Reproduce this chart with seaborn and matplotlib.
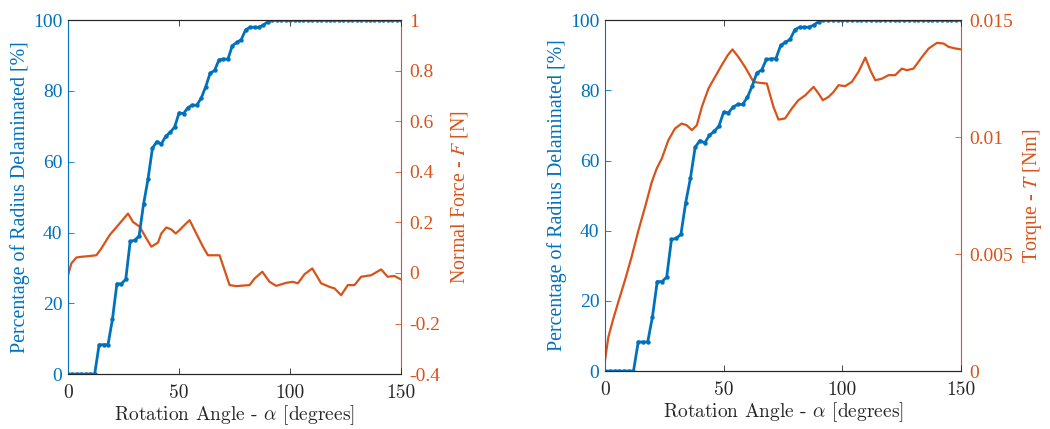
import numpy as np
import pandas as pd
import matplotlib
matplotlib.use("Agg")
import matplotlib.pyplot as plt
import seaborn as sns
from matplotlib.ticker import FuncFormatter

# ---------------- data ----------------
angle_pct = [0, 2, 4, 6, 8, 10, 12, 14, 16, 18, 20, 22, 24, 26, 28, 30, 32, 34, 36, 38,
             40, 42, 44, 46, 48, 50, 52, 54, 56, 58, 60, 62, 64, 66, 68, 70, 72, 74, 76, 78,
             80, 82, 84, 86, 88, 90, 92, 94, 96, 98, 100, 102, 104, 106, 108, 110, 112, 114,
             116, 118, 120, 122, 124, 126, 128, 130, 132, 134, 136, 138, 140, 142, 144, 146,
             148, 150]
pct_delam = [0, 0, 0, 0, 0, 0, 0, 8.3, 8.3, 8.3, 15.5, 25.5, 25.5, 26.8, 37.5, 37.8, 39, 48,
             55, 63.8, 65.7, 65, 67.2, 68.3, 69.8, 73.8, 73.6, 75.3, 76, 76, 78, 81.2, 85,
             85.8, 88.8, 89, 89, 92.8, 93.7, 94.5, 97.3, 98, 98, 98, 98.6, 99.6, 100, 100, 100,
             100, 100, 100, 100, 100, 100, 100, 100, 100, 100, 100, 100, 100, 100, 100, 100,
             100, 100, 100, 100, 100, 100, 100, 100, 100, 100, 100]

angle_force = [0, 1.5, 3.75, 6, 9.75, 12.75, 15, 18.75, 23.25, 27, 29.25, 32.25, 35.25, 37.5,
               40.5, 42, 44.25, 46.5, 48.5, 50.25, 52.5, 54.75, 57.75, 60.75, 63, 68.25, 72.75,
               75.75, 81.75, 84, 87.5, 90.75, 93.75, 98.25, 101.25, 103.5, 106.5, 110, 114,
               117.75, 120, 123, 126, 129, 132, 136.5, 141, 144, 147, 150]
normal_force = [-0.009, 0.038, 0.061, 0.064, 0.067, 0.07, 0.097, 0.15, 0.196, 0.235, 0.202,
                0.183, 0.137, 0.104, 0.12, 0.156, 0.18, 0.172, 0.156, 0.17, 0.19, 0.209, 0.156,
                0.104, 0.07, 0.07, -0.048, -0.052, -0.048, -0.022, 0.005, -0.035, -0.051,
                -0.039, -0.035, -0.041, -0.005, 0.018, -0.041, -0.055, -0.061, -0.088, -0.048,
                -0.048, -0.015, -0.009, 0.014, -0.015, -0.012, -0.026]

angle_torque = [0, 1.4, 3.5, 5.6, 8.4, 11.2, 14.1, 16.9, 19.7, 21.8, 23.9, 26.7, 29.5, 32.3,
                34.4, 36.6, 38.7, 40.8, 43.6, 46.4, 49.2, 51.7, 53.7, 56.2, 59, 62.6, 65.4,
                68.2, 71, 73.1, 75.9, 78.7, 81.5, 84.4, 87.9, 90, 91.8, 94.2, 96.3, 98.4,
                101.2, 104, 106.8, 109.7, 111.8, 113.9, 116.7, 119.5, 122.3, 125.1, 127.2,
                130, 133.6, 136.4, 139.9, 142.7, 144.8, 147.6, 150]
torque = [0.00046, 0.00145, 0.00224, 0.00295, 0.00388, 0.00488, 0.00602, 0.00702, 0.00808,
          0.00866, 0.00908, 0.00987, 0.01037, 0.01058, 0.01051, 0.0103, 0.01051, 0.01129,
          0.01208, 0.01258, 0.01308, 0.0135, 0.01375, 0.01343, 0.013, 0.01236, 0.01232,
          0.01229, 0.01129, 0.01075, 0.0108, 0.01122, 0.01158, 0.01179, 0.01215, 0.01186,
          0.01158, 0.01172, 0.01193, 0.01222, 0.01218, 0.01236, 0.01279, 0.0134, 0.01286,
          0.01243, 0.0125, 0.01265, 0.01265, 0.01293, 0.01286, 0.01293, 0.01343, 0.01379,
          0.01403, 0.014, 0.01386, 0.01379, 0.01375]

x_ticks = [0, 50, 100, 150]
x_tick_labels = ["0", "50", "100", "150"]
pct_ticks = [0, 20, 40, 60, 80, 100]
force_ticks = [-0.4, -0.2, 0, 0.2, 0.4, 0.6, 0.8, 1]
torque_ticks = [0, 0.005, 0.01, 0.015]

# ---------------- style ----------------
sns.set_theme(style="white")
plt.rcParams["font.family"] = ["Liberation Serif", "DejaVu Serif"]
plt.rcParams["mathtext.fontset"] = "stix"
plt.rcParams["xtick.direction"] = "in"
plt.rcParams["ytick.direction"] = "in"

BLUE = "#0072BD"
ORANGE = "#D95319"
DARK = "#262626"
FS_TICK = 14
FS_LAB = 14.4
FS_XLAB = 14

fig = plt.figure(figsize=(10.5, 4.29), dpi=100)
ax_l = fig.add_axes([0.0648, 0.128, 0.3172, 0.825])
ax_r = fig.add_axes([0.5762, 0.135, 0.3390, 0.818])

fmt = FuncFormatter(lambda v, p: ("%g" % round(v, 6)))


def setup(ax, ax2, right_vals_x, right_vals_y, right_ticks, right_lim, right_label):
    df_p = pd.DataFrame({"a": angle_pct, "p": pct_delam})
    df_r = pd.DataFrame({"a": right_vals_x, "v": right_vals_y})
    sns.lineplot(data=df_r, x="a", y="v", ax=ax2, color=ORANGE, linewidth=1.6)
    sns.lineplot(data=df_p, x="a", y="p", ax=ax, color=BLUE, linewidth=2.0,
                 marker="o", markersize=3.2, markeredgewidth=0)
    ax.set_zorder(ax2.get_zorder() + 1)
    ax.patch.set_visible(False)

    ax.set_xlim(0, 150)
    ax.set_ylim(0, 100)
    ax.set_xticks(x_ticks)
    ax.set_xticklabels(x_tick_labels, fontfamily="cmr10")
    ax.set_yticks(pct_ticks)
    ax2.set_ylim(*right_lim)
    ax2.set_yticks(right_ticks)
    ax2.yaxis.set_major_formatter(fmt)

    ax.set_xlabel(r"Rotation Angle - $\alpha$ [degrees]", fontfamily="cmr10",
                  fontsize=FS_XLAB, color=DARK, labelpad=1, math_fontfamily="cm")
    ax.set_ylabel("Percentage of Radius Delaminated [%]", fontsize=FS_LAB, color=BLUE, labelpad=2)
    ax2.set_ylabel(right_label, fontsize=FS_LAB, color=ORANGE, labelpad=6)

    ax.tick_params(axis="x", colors=DARK, labelsize=FS_TICK, top=True, bottom=True,
                   length=4, width=0.6, pad=7)
    ax.tick_params(axis="y", colors=BLUE, labelsize=FS_TICK, left=True, right=False,
                   length=4, width=0.6, pad=4)
    ax2.tick_params(axis="y", colors=ORANGE, labelsize=FS_TICK, right=True, left=False,
                    length=4, width=0.6, pad=6)
    ax2.tick_params(axis="x", top=False, bottom=False)

    for a in (ax, ax2):
        for s in a.spines.values():
            s.set_linewidth(0.8)
        a.spines["top"].set_color(DARK)
        a.spines["bottom"].set_color(DARK)
        a.spines["left"].set_color(BLUE)
        a.spines["right"].set_color(ORANGE)
    ax.spines["right"].set_visible(False)
    ax2.spines["left"].set_visible(False)
    ax.grid(False)
    ax2.grid(False)


ax_l2 = ax_l.twinx()
setup(ax_l, ax_l2, angle_force, normal_force, force_ticks, (-0.4, 1),
      r"Normal Force - $F$ [N]")
ax_r2 = ax_r.twinx()
setup(ax_r, ax_r2, angle_torque, torque, torque_ticks, (0, 0.015),
      r"Torque - $T$ [Nm]")

fig.savefig("out.png", dpi=100)
